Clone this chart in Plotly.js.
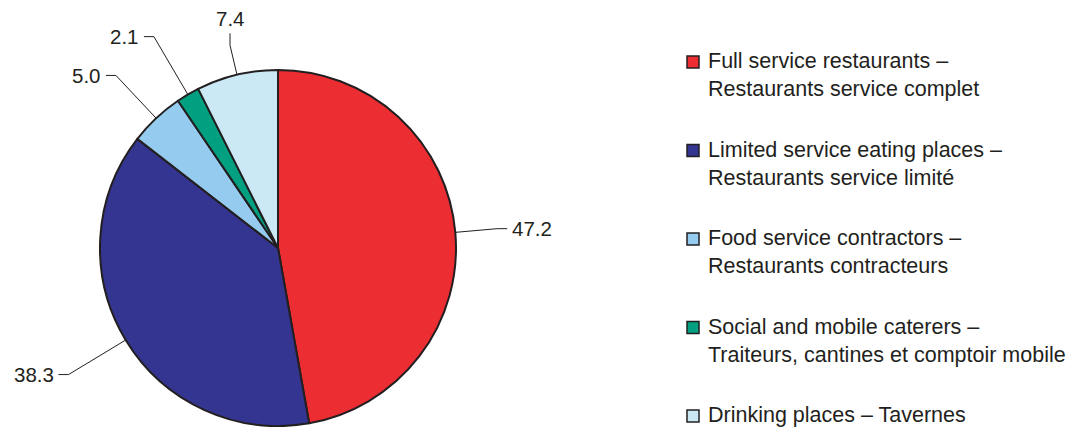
<!DOCTYPE html>
<html><head><meta charset="utf-8">
<script src="https://cdn.plot.ly/plotly-3.0.1.min.js"></script>
<style>html,body{margin:0;padding:0;background:#fff}#chart{width:1074px;height:427px}</style>
</head><body><div id="chart"></div>
<script>
// ---- data ----
const categories = [
  "Full service restaurants –<br>Restaurants service complet",
  "Limited service eating places –<br>Restaurants service limité",
  "Food service contractors –<br>Restaurants contracteurs",
  "Social and mobile caterers –<br>Traiteurs, cantines et comptoir mobile",
  "Drinking places – Tavernes"
];
const shares = [47.2, 38.3, 5.0, 2.1, 7.4];
const sliceColors = ["#EC2D31", "#333590", "#95CBEF", "#00A080", "#CBE8F5"];

// ---- style ----
const W = 1074, H = 427;
const ink = "#231f20";
const fontFam = "Liberation Sans, Arial, Helvetica, sans-serif";
const pieDomain = {x: [100 / W, 456 / W], y: [1 / H, 357 / H]};
const labelReach = [1.236, 1.375, 1.33, 1.377, 1.17];
const labelFont = 20.5;
const legendFont = 21.5;

const px2x = p => p / W;
const py2y = p => 1 - p / H;

const cx = (pieDomain.x[0] + pieDomain.x[1]) / 2 * W;
const cy = (1 - (pieDomain.y[0] + pieDomain.y[1]) / 2) * H;
const R = Math.min((pieDomain.x[1] - pieDomain.x[0]) * W, (pieDomain.y[1] - pieDomain.y[0]) * H) / 2;

const total = shares.reduce((a, b) => a + b, 0);
const shapes = [];
const annotations = [];
let cum = 0;
shares.forEach((v, i) => {
  const mid = (cum + v / 2) / total * 2 * Math.PI; // clockwise from 12 o'clock
  cum += v;
  const s = Math.sin(mid), c = Math.cos(mid);
  const ex = cx + R * s, ey = cy - R * c;
  const k = labelReach[i];
  const bx = cx + R * k * s, by = cy - R * k * c;
  let tx, ty, ann;
  if (Math.abs(s) < 0.3) {
    tx = bx; ty = by - 12;
    ann = {x: px2x(tx), y: py2y(ty - 1), xanchor: "center", yanchor: "bottom"};
  } else {
    const dir = s > 0 ? 1 : -1;
    tx = bx + dir * 10; ty = by;
    ann = {x: px2x(tx + dir * 3), y: py2y(ty), xanchor: dir > 0 ? "left" : "right", yanchor: "middle"};
  }
  shapes.push({
    type: "path", xref: "paper", yref: "paper",
    path: `M${px2x(ex)},${py2y(ey)} L${px2x(bx)},${py2y(by)} L${px2x(tx)},${py2y(ty)}`,
    line: {color: ink, width: 1}
  });
  annotations.push(Object.assign(ann, {
    xref: "paper", yref: "paper", showarrow: false,
    text: v.toFixed(1), font: {size: labelFont, color: ink, family: fontFam}
  }));
});

// legend (drawn manually to match the spacing of the original)
const legFirst = 60, legStep = 88.5, legTextX = 706, swX = 687, swSize = 12;
categories.forEach((name, i) => {
  const yc = legFirst + i * legStep;
  shapes.push({
    type: "rect", xref: "paper", yref: "paper",
    x0: px2x(swX), x1: px2x(swX + swSize), y0: py2y(yc + 2 + swSize / 2), y1: py2y(yc + 2 - swSize / 2),
    fillcolor: sliceColors[i], line: {color: ink, width: 1.5}
  });
  annotations.push({
    xref: "paper", yref: "paper", showarrow: false,
    x: px2x(legTextX), y: py2y(yc - 0.65 * legendFont + 1),
    xanchor: "left", yanchor: "top", align: "left",
    text: name, font: {size: legendFont, color: ink, family: fontFam}
  });
});

const trace = {
  type: "pie",
  values: shares,
  labels: categories,
  marker: {colors: sliceColors, line: {color: ink, width: 2}},
  sort: false,
  direction: "clockwise",
  rotation: 0,
  textinfo: "none",
  hoverinfo: "label+value",
  domain: pieDomain,
  showlegend: false
};

Plotly.newPlot("chart", [trace], {
  width: W, height: H,
  margin: {l: 0, r: 0, t: 0, b: 0},
  paper_bgcolor: "#fff",
  showlegend: false,
  shapes: shapes,
  annotations: annotations,
  font: {family: fontFam, color: ink}
}, {displayModeBar: false, staticPlot: true});
</script></body></html>
